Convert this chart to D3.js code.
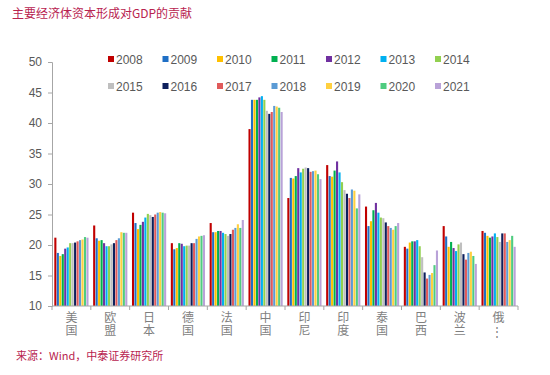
<!DOCTYPE html>
<html>
<head>
  <meta charset="utf-8">
  <style>
    body {
      margin: 0;
      background: white;
    }
    text {
      font-family: "Liberation Sans", Arial, "Noto Sans CJK SC", sans-serif;
    }
    .cjk {
      font-family: "Noto Sans CJK SC", sans-serif;
    }
  </style>
</head>
<body>
  <script src="https://d3js.org/d3.v7.min.js"></script>
  <script>
    var width = 550, height = 375;

    // data
    var years = ["2008", "2009", "2010", "2011", "2012", "2013", "2014",
                 "2015", "2016", "2017", "2018", "2019", "2020", "2021"];
    var countries = ["美国", "欧盟", "日本", "德国", "法国", "中国", "印尼",
                     "印度", "泰国", "巴西", "波兰", "俄⋮"];
    var us = [21.2, 18.7, 18.2, 18.5, 19.4, 19.6, 20.3, 20.3, 20.4, 20.6, 20.8, 20.9, 21.3, 21.2];
    var eu = [23.2, 21.1, 20.7, 20.8, 20.3, 19.8, 19.8, 20.1, 20.3, 20.8, 21.1, 22.1, 22.0, 22.0];
    var japan = [25.3, 23.6, 22.6, 23.3, 23.8, 24.5, 25.1, 24.9, 24.6, 25.0, 25.3, 25.4, 25.3, 25.2];
    var germany = [20.3, 19.3, 19.5, 20.3, 20.2, 19.8, 19.9, 19.9, 20.3, 20.3, 21.0, 21.4, 21.5, 21.6];
    var france = [23.6, 22.1, 22.1, 22.3, 22.3, 22.0, 21.8, 21.5, 21.8, 22.5, 22.8, 23.4, 22.8, 24.1];
    var china = [39.0, 43.8, 43.8, 43.8, 44.2, 44.4, 43.8, 42.0, 41.5, 41.8, 42.8, 42.7, 42.5, 41.8];
    var indonesia = [27.7, 31.0, 30.9, 31.3, 32.6, 31.9, 32.5, 32.7, 32.6, 32.0, 32.1, 32.2, 31.6, 30.8];
    var india = [33.1, 31.3, 31.2, 32.2, 33.7, 31.9, 30.3, 29.0, 28.4, 27.7, 29.1, 28.9, 26.0, 28.3];
    var thailand = [26.3, 23.1, 23.9, 25.7, 26.9, 25.3, 24.5, 24.4, 23.7, 23.1, 22.8, 22.5, 23.1, 23.6];
    var brazil = [19.7, 19.4, 20.4, 20.6, 20.6, 20.8, 19.8, 18.0, 15.5, 14.5, 15.1, 15.4, 16.7, 19.1];
    var poland = [23.1, 21.4, 19.7, 20.5, 19.5, 19.0, 20.1, 20.4, 18.5, 17.6, 18.7, 18.9, 18.2, 16.9];
    var russia = [22.3, 22.0, 21.5, 21.2, 21.4, 21.9, 21.3, 20.5, 21.9, 21.9, 20.5, 20.8, 21.5, 19.7];
    var values = [us, eu, japan, germany, france, china, indonesia,
                  india, thailand, brazil, poland, russia];
    var yTicks = [10, 15, 20, 25, 30, 35, 40, 45, 50];

    var colors = ["#c00000", "#1f6fc5", "#ffc000", "#00b050", "#7030a0", "#00b0f0", "#92d050",
                  "#bfbfbf", "#0d1f5c", "#e05a5a", "#5b9bd5", "#ffd040", "#4fcc80", "#b9a2d8"];

    var svg = d3.select("body").append("svg")
        .attr("width", width)
        .attr("height", height);

    var x0 = d3.scaleBand().domain(countries).range([52, 518]).paddingInner(0.1).paddingOuter(0.05);
    var x1 = d3.scaleBand().domain(years).range([0, x0.bandwidth()]).padding(0.15);
    var y = d3.scaleLinear().domain([10, 50]).range([306, 62]);
    var color = d3.scaleOrdinal().domain(years).range(colors);

    // title + source
    svg.append("text").attr("class", "cjk")
        .attr("x", 12).attr("y", 18)
        .style("font-size", "12px").style("fill", "#b8234f")
        .text("主要经济体资本形成对GDP的贡献");
    svg.append("text").attr("class", "cjk")
        .attr("x", 16).attr("y", 360)
        .style("font-size", "11px").style("fill", "#b8234f")
        .text("来源：Wind，中泰证券研究所");

    // bars
    var groups = svg.selectAll("g.grp")
        .data(countries)
      .enter().append("g")
        .attr("class", "grp")
        .attr("transform", d => "translate(" + x0(d) + ",0)");

    groups.selectAll("rect")
        .data((d, i) => values[i].map((v, j) => ({ year: years[j], v: v })))
      .enter().append("rect")
        .attr("x", d => x1(d.year))
        .attr("width", x1.bandwidth())
        .attr("y", d => y(d.v))
        .attr("height", d => y(10) - y(d.v))
        .style("fill", d => color(d.year));

    // y axis
    var yAxis = svg.append("g")
        .attr("transform", "translate(52,0)")
        .call(d3.axisLeft(y).tickValues(yTicks).tickSize(4).tickPadding(6));
    yAxis.select(".domain").attr("stroke", "#a6a6a6");
    yAxis.selectAll(".tick line").attr("stroke", "#a6a6a6");
    yAxis.selectAll(".tick text")
        .style("font-size", "12px").style("fill", "#595959")
        .style("font-family", "Liberation Sans, Arial, sans-serif");

    // x axis
    var xa = svg.append("g");
    xa.append("line")
        .attr("x1", 52).attr("x2", 518)
        .attr("y1", y(10)).attr("y2", y(10))
        .attr("stroke", "#a6a6a6");
    var bounds = countries.map(c => x0(c) - x0.step() * x0.paddingInner() / 2);
    bounds.push(518);
    bounds[0] = 52;
    xa.selectAll("line.tk")
        .data(bounds)
      .enter().append("line")
        .attr("class", "tk")
        .attr("x1", d => d).attr("x2", d => d)
        .attr("y1", y(10)).attr("y2", y(10) + 4)
        .attr("stroke", "#a6a6a6");

    // category labels stacked vertically, one text each
    xa.selectAll("text")
        .data(countries)
      .enter().append("text")
        .attr("class", "cjk")
        .attr("x", d => x0(d) + x0.bandwidth() / 2)
        .attr("y", 311)
        .style("writing-mode", "vertical-rl")
        .style("text-orientation", "upright")
        .style("letter-spacing", "1.5px")
        .style("font-size", "12px").style("fill", "#7f7f7f")
        .text(d => d);

    // legend
    var lg = svg.selectAll("g.lg")
        .data(years)
      .enter().append("g")
        .attr("class", "lg")
        .attr("transform", (d, i) => "translate(" + (108 + (i % 7) * 54.5) + "," + (i < 7 ? 59 : 86) + ")");
    lg.append("rect")
        .attr("x", 0).attr("y", -3)
        .attr("width", 6).attr("height", 6)
        .style("fill", d => color(d));
    lg.append("text")
        .attr("x", 8).attr("y", 4.5)
        .style("font-size", "12px").style("fill", "#595959")
        .text(d => d);
  </script>
</body>
</html>
